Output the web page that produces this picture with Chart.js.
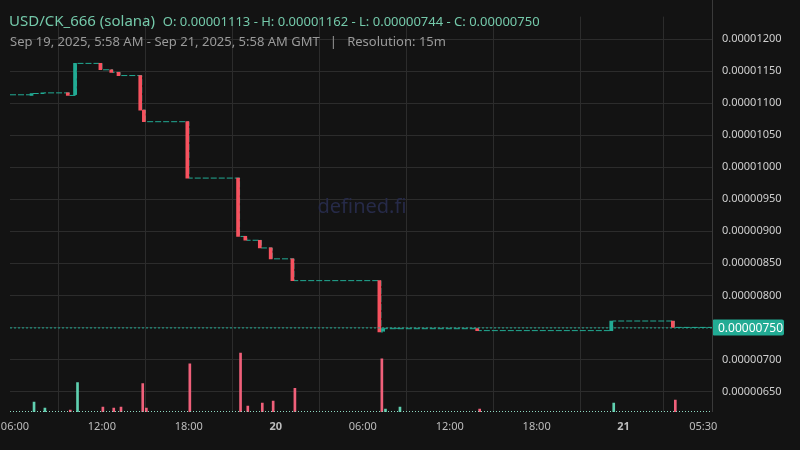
<!DOCTYPE html>
<html><head><meta charset="utf-8">
<script src="https://cdn.jsdelivr.net/npm/chart.js@4"></script>
<style>
html,body{margin:0;padding:0;background:#131313;}
#wrap{position:relative;width:800px;height:450px;}
.t1{position:absolute;left:9px;top:10px;font:15px "Noto Sans";color:#74c9aa;white-space:nowrap;}
.t1 span{font-size:13px;}
.t2{position:absolute;left:10px;top:32px;font:13px "Noto Sans";color:#9a9a9a;white-space:nowrap;}
</style></head><body>
<div id="wrap"><canvas id="c" width="800" height="450"></canvas>
<div class="t1">USD/CK_666 (solana) &nbsp;<span>O: 0.00001113 - H: 0.00001162 - L: 0.00000744 - C: 0.00000750</span></div>
<div class="t2">Sep 19, 2025, 5:58 AM - Sep 21, 2025, 5:58 AM GMT &nbsp;&nbsp;| &nbsp;&nbsp;Resolution: 15m</div>
</div>
<script>
// time in hours since Sep 19 00:00 GMT; prices in units of 1e-8
const candleTimes = [7.25,8.0,9.75,10.25,12.0,12.75,13.25,14.75,15.0,18.0,21.5,22.0,23.0,23.75,25.25,31.25,31.5,32.5,38.0,47.25,51.5];
const opens  = [1112,1115,1116,1113,1162,1152,1148,1143,1089,1071,983,892,886,874,857,823,744,748,748,745,760];
const closes = [1115,1116,1112,1162,1152,1148,1143,1089,1071,983,892,886,874,857,823,743,748,748,745,760,750];
const volumes= [10,4,2,30,5,4,5,29,4,49,60,6,9,11,24,54,3,5,3,9,12];
const startTime = 5.66, endTime = 54.1, startPrice = 1113, lastPrice = 750;
const tickHours = [6,12,18,24,30,36,42,48,53.5];
const tickLabels = ["06:00","12:00","18:00","20","06:00","12:00","18:00","21","05:30"];
const priceTicks = [650,700,750,800,850,900,950,1000,1050,1100,1150,1200];

const GREEN='#22ab94', RED='#f7525f', VGREEN='#5fd0b0', VRED='#f0607a';
const col = candleTimes.map((t,i)=>closes[i]>=opens[i]?GREEN:RED);
const vcol = candleTimes.map((t,i)=>closes[i]>=opens[i]?VGREEN:VRED);
const linePts=[{x:startTime,y:startPrice}].concat(candleTimes.map((t,i)=>({x:t,y:closes[i]}))).concat([{x:endTime,y:lastPrice}]);
const fmt=v=>(v*1e-8).toFixed(8);

const extras={id:'extras',
 beforeDatasetsDraw(ch){const c=ch.ctx,a=ch.chartArea;
  c.save();c.font='20px "Noto Sans"';c.fillStyle='#262a48';c.textAlign='center';c.textBaseline='middle';
  c.fillText('defined.fi',362,207);c.restore();},
 afterDatasetsDraw(ch){const c=ch.ctx,a=ch.chartArea,y=ch.scales.y.getPixelForValue(lastPrice);
  c.save();c.strokeStyle=GREEN;c.setLineDash([2,2]);c.lineWidth=1;
  c.beginPath();c.moveTo(a.left,y+0.5);c.lineTo(a.right,y+0.5);c.stroke();
  c.setLineDash([]);c.fillStyle=GREEN;c.beginPath();c.roundRect(a.right,y-8,72,16,2);c.fill();
  c.fillStyle='#fff';c.font='12px "Noto Sans"';c.textBaseline='middle';c.fillText(fmt(lastPrice),a.right+6,y+1);
  c.strokeStyle='#3a3a3a';c.beginPath();c.moveTo(a.right+0.5,0);c.lineTo(a.right+0.5,a.bottom);c.stroke();
  c.setLineDash([1,2]);c.strokeStyle='#8fd9c2';c.beginPath();c.moveTo(a.left,a.bottom-0.5);c.lineTo(a.right,a.bottom-0.5);c.stroke();
  c.restore();}};

new Chart(document.getElementById('c'),{
 data:{datasets:[
  {type:'line',data:linePts,stepped:'before',borderColor:GREEN,borderWidth:1,borderDash:[6,2],pointRadius:0,yAxisID:'y',order:3},
  {type:'bar',data:candleTimes.map((t,i)=>({x:t,y:[opens[i],closes[i]]})),backgroundColor:col,barThickness:3,yAxisID:'y',order:1},
  {type:'bar',data:candleTimes.map((t,i)=>({x:t,y:volumes[i]})),backgroundColor:vcol,barThickness:2,yAxisID:'yv',order:2}
 ]},
 options:{responsive:false,animation:false,
  layout:{padding:{left:10,top:10,right:0,bottom:0}},
  plugins:{legend:{display:false},tooltip:{enabled:false}},
  scales:{
   x:{type:'linear',min:5.66,max:54.1,offset:false,
      afterBuildTicks(s){s.ticks=tickHours.map(v=>({value:v}));},
      afterFit(s){s.height=38;s.paddingLeft=0;s.paddingRight=0;},
      grid:{color:'#2c2c2c',drawTicks:false},border:{display:false},
      ticks:{color:'#bdbdbd',padding:8,maxRotation:0,autoSkip:false,
        callback:(v,i)=>tickLabels[i],
        font:c=>({family:'Noto Sans',size:11,weight:(tickLabels[c.index]==='20'||tickLabels[c.index]==='21')?'bold':'normal'})}},
   y:{position:'right',min:618,max:1235,
      afterBuildTicks(s){s.ticks=priceTicks.map(v=>({value:v}));},
      afterFit(s){s.width=88;},
      grid:{color:'#2c2c2c',drawTicks:false},border:{display:false},
      ticks:{color:'#cfcfcf',padding:10,font:{family:'Noto Sans',size:11},callback:v=>fmt(v)}},
   yv:{display:false,min:0,max:402}
  }},
 plugins:[extras]});
</script></body></html>
